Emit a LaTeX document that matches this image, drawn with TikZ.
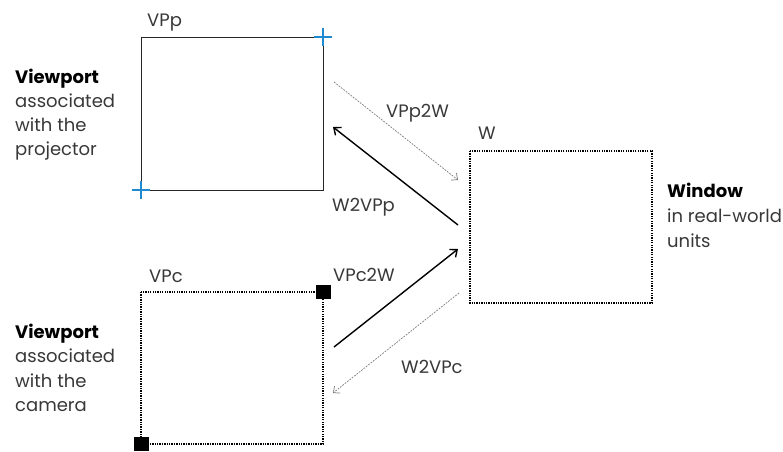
\documentclass[tikz,border=0pt]{standalone}
\usepackage{fontspec}
\setmainfont{Poppins}
\usetikzlibrary{arrows.meta,calc}
\definecolor{txt}{HTML}{383838}
\definecolor{cross}{HTML}{1F8AD0}
\definecolor{ghost}{HTML}{7A7A7A}
\tikzset{
  lbl/.style={anchor=base west, inner sep=0pt, text=txt, font=\fontsize{18}{20}\selectfont},
  head/.style={anchor=base west, inner sep=0pt, text=black, font=\fontsize{18}{20}\selectfont\bfseries},
  solidbox/.style={draw=black!85, line width=1pt},
  dotbox/.style={draw=black, line width=1.1pt, dash pattern=on 1.3pt off 1.1pt},
  bluecross/.style={draw=cross, line width=1.3pt},
  marker/.style={fill=black, draw=none},
  bold arrow/.style={draw=black, line width=1.4pt, -{Straight Barb[length=6pt,width=10pt]}},
  thin arrow/.style={draw=ghost, line width=0.7pt, dash pattern=on 1.8pt off 1.2pt, -{Straight Barb[length=5pt,width=9pt]}}
}
\begin{document}
\begin{tikzpicture}[x=1pt,y=-1pt]
\useasboundingbox (0,0) rectangle (783,451);

% viewport of the projector
\draw[solidbox] (141,37) rectangle (323,190);
\coordinate (ptr) at (323,37);
\coordinate (pbl) at (141,190);
\foreach \c in {ptr,pbl}{
  \draw[bluecross] ($(\c)+(-9,0)$) -- ($(\c)+(9,0)$);
  \draw[bluecross] ($(\c)+(0,-9)$) -- ($(\c)+(0,9)$);
}
\node[lbl] (VPp) at (147,26) {VPp};

% viewport of the camera
\draw[dotbox] (141,292) rectangle (323,444);
\fill[marker] (316,285) rectangle (331,299);
\fill[marker] (134,437) rectangle (149,451);
\node[lbl] (VPc) at (149,282) {VPc};

% window in real-world units
\draw[dotbox] (470,151) rectangle (652,303);
\node[lbl] (W) at (478,139) {W};

% transforms
\coordinate (a1s) at (334,82);  \coordinate (a1e) at (458,180);
\coordinate (a2s) at (458,225); \coordinate (a2e) at (333,127);
\coordinate (a3s) at (334,347); \coordinate (a3e) at (458,249);
\coordinate (a4s) at (459,293); \coordinate (a4e) at (333,393);
\draw[thin arrow] (a1s) -- (a1e);
\draw[bold arrow] (a2s) -- (a2e);
\draw[bold arrow] (a3s) -- (a3e);
\draw[thin arrow] (a4s) -- (a4e);
\node[lbl] (t1) at (386,117) {VPp2W};
\node[lbl] (t2) at (332,211) {W2VPp};
\node[lbl] (t3) at (333,281) {VPc2W};
\node[lbl] (t4) at (401,373) {W2VPc};

% captions
\node[head] (c1a) at (15,83)  {Viewport};
\node[lbl]  (c1b) at (15,107) {associated};
\node[lbl]  (c1c) at (15,131) {with the};
\node[lbl]  (c1d) at (15,155) {projector};

\node[head] (c2a) at (15,338) {Viewport};
\node[lbl]  (c2b) at (15,362) {associated};
\node[lbl]  (c2c) at (15,387) {with the};
\node[lbl]  (c2d) at (15,411) {camera};

\node[head] (c3a) at (667,197) {Window};
\node[lbl]  (c3b) at (667,222) {in real-world};
\node[lbl]  (c3c) at (667,247) {units};
\end{tikzpicture}
\end{document}
